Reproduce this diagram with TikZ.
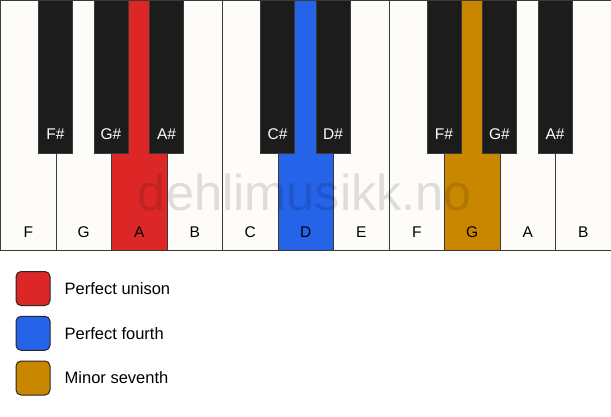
\documentclass[tikz,border=0pt]{standalone}
\usepackage{fontspec}
\setmainfont{Liberation Sans}
\usetikzlibrary{positioning}

\definecolor{keywhite}{HTML}{FDFCF9}
\definecolor{keyblack}{HTML}{1C1C1C}
\definecolor{keyedge}{HTML}{3A3A3A}
\definecolor{unison}{HTML}{DD2727}
\definecolor{fourth}{HTML}{2563E8}
\definecolor{seventh}{HTML}{C98700}

\tikzset{
    whitekey/.style={draw=keyedge, line width=1pt, minimum width=55.5pt, minimum height=250pt, inner sep=0pt, anchor=north west},
    blackkey/.style={draw=keyedge, fill=keyblack, line width=0.6pt, minimum width=34pt, minimum height=153pt, inner sep=0pt, anchor=north},
    keylabel/.style={font=\fontsize{15.5}{16}\selectfont, inner sep=0pt, anchor=base},
    swatch/.style={draw=black!85, line width=1pt, rounded corners=5pt, minimum size=34pt, inner sep=0pt},
    legendtext/.style={font=\fontsize{16.5}{17}\selectfont, inner sep=0pt, anchor=west}
}

\begin{document}
\begin{tikzpicture}[x=1pt, y=-1pt]
    \useasboundingbox (0, 0) rectangle (611, 417);
    \fill[white] (0, 0) rectangle (611, 417);

    % white keys
    \foreach \n/\c [count=\i from 0] in {F/keywhite, G/keywhite, A/unison, B/keywhite, C/keywhite, D/fourth, E/keywhite, F/keywhite, G/seventh, A/keywhite, B/keywhite} {
        \node[whitekey, fill=\c] (w\i) at (\i*55.5, 0) {};
        \node[keylabel] (wl\i) at ([yshift=14pt]w\i.south) {\n};
    }

    % watermark
    \node[text=black, opacity=0.12, font=\fontsize{50.5}{51}\selectfont, inner sep=0pt] (mark) at (305, 192) {dehlimusikk.no};

    % black keys
    \foreach \n/\k in {F\#/1, G\#/2, A\#/3, C\#/5, D\#/6, F\#/8, G\#/9, A\#/10} {
        \node[blackkey] (b\k) at (\k*55.5, 0) {};
        \node[keylabel, text=white] (bl\k) at ([yshift=14pt]b\k.south) {\n};
    }

    % legend
    \node[swatch, fill=unison] (s1) at (33, 288.5) {};
    \node[swatch, fill=fourth] (s2) at (33, 333.3) {};
    \node[swatch, fill=seventh] (s3) at (33, 378) {};
    \node[legendtext, right=14pt of s1] (t1) {Perfect unison};
    \node[legendtext, right=14pt of s2] (t2) {Perfect fourth};
    \node[legendtext, right=14pt of s3] (t3) {Minor seventh};
\end{tikzpicture}
\end{document}
